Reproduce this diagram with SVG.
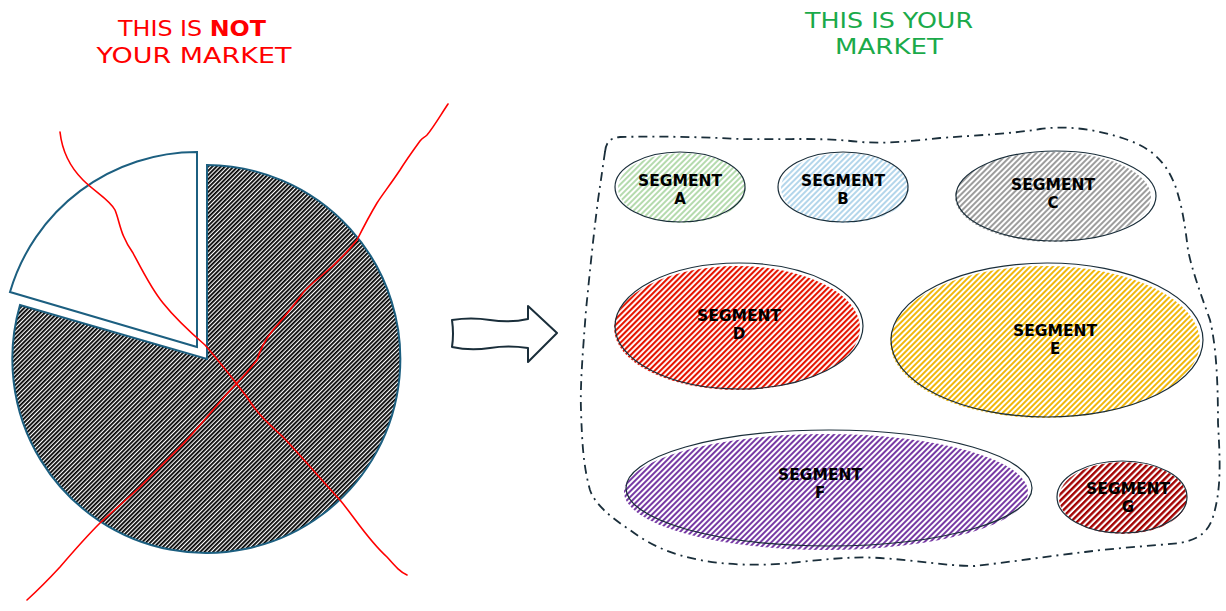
<svg xmlns="http://www.w3.org/2000/svg" width="1226" height="611" viewBox="0 0 1226 611">
<style>
.title{font-family:"DejaVu Sans","Liberation Sans",sans-serif;font-size:21px;text-anchor:middle}
.seg{font-family:"DejaVu Sans","Liberation Sans",sans-serif;font-size:15px;font-weight:bold;text-anchor:middle;fill:#000}
.outline{fill:none;stroke:#1a2e3a;stroke-width:1.2}
.pie{stroke:#1c5f80;stroke-width:2;stroke-linejoin:miter}
.red{fill:none;stroke:#ff0000;stroke-width:1.6;stroke-linecap:round;stroke-linejoin:round}
</style>
<defs>
<pattern id="hBlack" patternUnits="userSpaceOnUse" width="3" height="3" patternTransform="rotate(45)"><line x1="0.9" y1="0" x2="0.9" y2="3" stroke="#000" stroke-width="1.8"/></pattern>
<pattern id="hGreen" patternUnits="userSpaceOnUse" width="4" height="4" patternTransform="rotate(45)"><line x1="1" y1="0" x2="1" y2="4" stroke="#a8d5a0" stroke-width="1.7"/></pattern>
<pattern id="hBlue" patternUnits="userSpaceOnUse" width="4" height="4" patternTransform="rotate(45)"><line x1="1" y1="0" x2="1" y2="4" stroke="#a6cfe8" stroke-width="1.7"/></pattern>
<pattern id="hGray" patternUnits="userSpaceOnUse" width="4" height="4" patternTransform="rotate(45)"><line x1="1" y1="0" x2="1" y2="4" stroke="#8c8c8c" stroke-width="1.7"/></pattern>
<pattern id="hRed" patternUnits="userSpaceOnUse" width="4" height="4" patternTransform="rotate(45)"><line x1="1" y1="0" x2="1" y2="4" stroke="#e51400" stroke-width="2.2"/></pattern>
<pattern id="hYellow" patternUnits="userSpaceOnUse" width="4" height="4" patternTransform="rotate(45)"><line x1="1" y1="0" x2="1" y2="4" stroke="#f0b400" stroke-width="1.9"/></pattern>
<pattern id="hPurple" patternUnits="userSpaceOnUse" width="4" height="4" patternTransform="rotate(45)"><line x1="1" y1="0" x2="1" y2="4" stroke="#7030a0" stroke-width="1.9"/></pattern>
<pattern id="hDarkRed" patternUnits="userSpaceOnUse" width="4.5" height="4.5" patternTransform="rotate(45)"><line x1="1.2" y1="0" x2="1.2" y2="4.5" stroke="#a20000" stroke-width="2.4"/></pattern>
</defs>
<rect width="1226" height="611" fill="#fff"/>

<g id="title-not">
<text class="title" fill="#ff0000" x="192" y="36" textLength="148" lengthAdjust="spacingAndGlyphs">THIS IS <tspan font-weight="bold">NOT</tspan></text>
<text class="title" fill="#ff0000" x="194" y="63" textLength="195" lengthAdjust="spacingAndGlyphs">YOUR MARKET</text>
</g>
<g id="title-your">
<text class="title" fill="#1aaa4a" x="889" y="28" textLength="168" lengthAdjust="spacingAndGlyphs">THIS IS YOUR</text>
<text class="title" fill="#1aaa4a" x="889" y="54" textLength="108" lengthAdjust="spacingAndGlyphs">MARKET</text>
</g>

<g id="pie">
<path class="pie" fill="url(#hBlack)" d="M207,359 L207,165 A194,194 0 1 1 20,305 Z"/>
<path class="pie" fill="#fff" d="M197,347 L10,292 A195,195 0 0 1 197,152 Z"/>
</g>

<g id="cross">
<path class="red" d="M60,132 C62,150 68,165 83,180 C95,192 110,200 115,210 C120,222 120,235 133,253 C142,270 152,290 163,303 C175,318 190,332 205,345 C220,362 232,378 247,397 C255,410 262,418 283,437 C300,455 320,478 340,500 C355,518 368,540 387,557 C395,566 400,572 407,575"/>
<path class="red" d="M448,104 C440,116 433,128 427,135 C424,138 423,137 420,141 C412,152 405,162 400,170 C390,185 382,195 377,203 C368,218 362,230 357,240 C345,255 335,265 320,277 C310,285 303,292 300,297 C290,310 282,320 273,330 C265,340 260,350 257,360 C245,375 240,380 237,383 C228,392 220,402 213,410 C200,425 190,437 180,447 C165,462 152,475 140,487 C126,500 112,512 100,523 C85,538 72,553 60,567 C48,580 38,590 27,600"/>
</g>

<g id="connectors">
<g id="arrow">
<path d="M452,320 Q471,317 490,320 Q510,323 528,319 L528,306 L557,333 L528,362 L528,348 Q508,345 490,348 Q470,351 452,347 Q454,334 452,320 Z" fill="#fff" stroke="#1a2e3a" stroke-width="2" stroke-linejoin="round"/>
</g>
</g>

<g id="market">
<path fill="none" stroke="#1a2e3a" stroke-width="1.8" stroke-dasharray="9 5 2 5" d="M605,152 C606,142 610,138 620,137 C660,136 700,137 740,139 C780,140 820,137 860,142 C890,144 910,141 940,138 C980,135 1010,134 1040,129 C1070,125 1100,130 1128,140 C1150,148 1165,160 1175,185 C1182,205 1185,225 1188,250 C1192,270 1200,292 1210,320 C1216,345 1218,380 1218,423 C1220,460 1222,490 1212,520 C1206,535 1195,540 1180,543 C1150,546 1115,548 1085,552 C1050,556 1010,562 975,566 C945,566 915,560 880,558 C850,556 820,560 790,563 C760,566 725,565 700,560 C672,555 650,545 630,530 C612,518 595,505 590,490 C583,465 582,440 581,410 C580,385 583,350 586,310 C590,270 593,240 598,200 C601,180 603,165 605,152 Z"/>
</g>

<g id="segment-a">
<ellipse cx="682" cy="188" rx="64" ry="35" fill="url(#hGreen)"/>
<ellipse class="outline" cx="680" cy="187" rx="65" ry="35"/>
<text class="seg" x="680" y="186" textLength="84" lengthAdjust="spacingAndGlyphs">SEGMENT</text>
<text class="seg" x="680" y="204">A</text>
</g>
<g id="segment-b">
<ellipse cx="845" cy="188" rx="64" ry="35" fill="url(#hBlue)"/>
<ellipse class="outline" cx="843" cy="187" rx="65" ry="35"/>
<text class="seg" x="843" y="186" textLength="84" lengthAdjust="spacingAndGlyphs">SEGMENT</text>
<text class="seg" x="843" y="204">B</text>
</g>
<g id="segment-c">
<ellipse cx="1053" cy="197" rx="98" ry="45" fill="url(#hGray)"/>
<ellipse class="outline" cx="1056" cy="196" rx="100" ry="45"/>
<text class="seg" x="1053" y="190" textLength="84" lengthAdjust="spacingAndGlyphs">SEGMENT</text>
<text class="seg" x="1053" y="208">C</text>
</g>
<g id="segment-d">
<ellipse cx="737" cy="328" rx="123" ry="62" fill="url(#hRed)"/>
<ellipse class="outline" cx="739" cy="326" rx="124" ry="63"/>
<text class="seg" x="739" y="321" textLength="84" lengthAdjust="spacingAndGlyphs">SEGMENT</text>
<text class="seg" x="739" y="339">D</text>
</g>
<g id="segment-e">
<ellipse cx="1045" cy="342" rx="155" ry="76" fill="url(#hYellow)"/>
<ellipse class="outline" cx="1047" cy="340" rx="156" ry="77"/>
<text class="seg" x="1055" y="336" textLength="84" lengthAdjust="spacingAndGlyphs">SEGMENT</text>
<text class="seg" x="1055" y="354">E</text>
</g>
<g id="segment-f">
<ellipse cx="826" cy="492" rx="202" ry="58" fill="url(#hPurple)"/>
<ellipse class="outline" cx="829" cy="488" rx="203" ry="58"/>
<text class="seg" x="820" y="480" textLength="84" lengthAdjust="spacingAndGlyphs">SEGMENT</text>
<text class="seg" x="820" y="498">F</text>
</g>
<g id="segment-g">
<ellipse cx="1123" cy="498" rx="64" ry="36" fill="url(#hDarkRed)"/>
<ellipse class="outline" cx="1122" cy="497" rx="65" ry="36"/>
<text class="seg" x="1128" y="494" textLength="84" lengthAdjust="spacingAndGlyphs">SEGMENT</text>
<text class="seg" x="1128" y="512">G</text>
</g>
</svg>
